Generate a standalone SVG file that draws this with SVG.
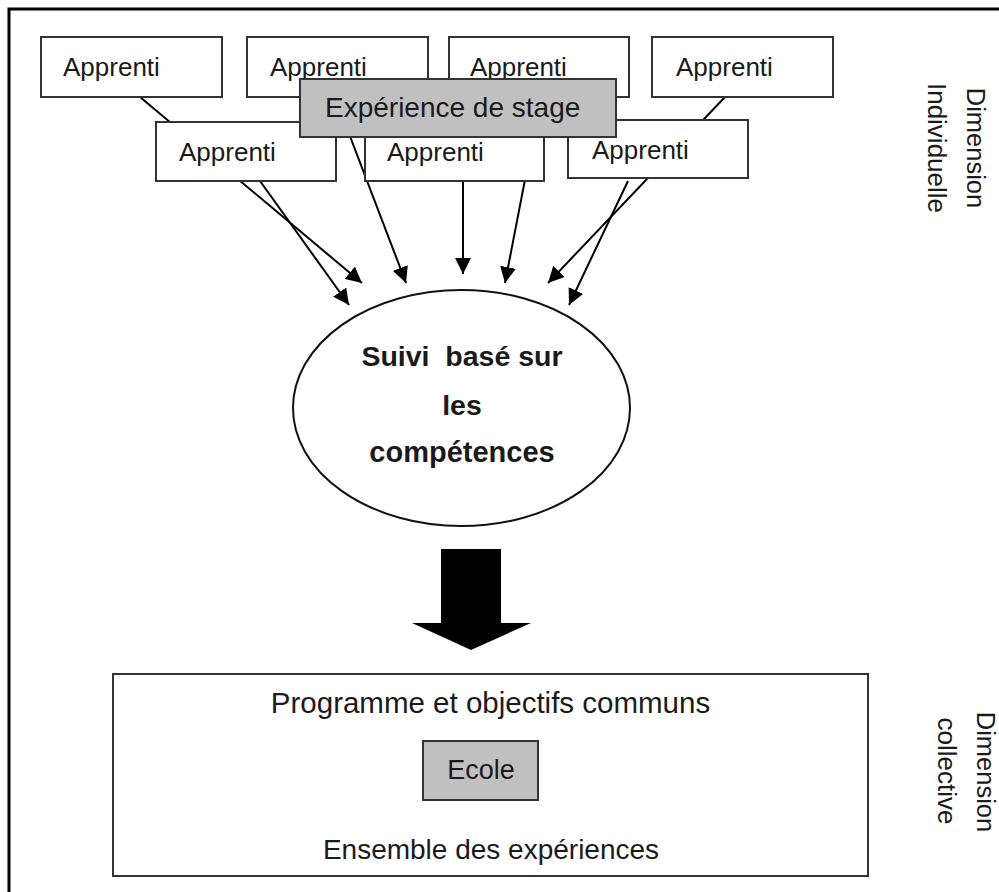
<svg xmlns="http://www.w3.org/2000/svg" width="999" height="892" viewBox="0 0 999 892">
<style>
.box{fill:#fff;stroke:#333;stroke-width:2}
.gray{fill:#c0c0c0;stroke:#333;stroke-width:2}
.t{font-family:"Liberation Sans",Arial,sans-serif;fill:#1a1a1a}
.conn{stroke:#000;stroke-width:2;fill:none;marker-end:url(#ah)}
</style>
<defs>
<marker id="ah" markerUnits="userSpaceOnUse" markerWidth="17" markerHeight="16" refX="16" refY="8" orient="auto">
<path d="M0,0 L16,8 L0,16 z" fill="#000"/>
</marker>
</defs>
<rect width="999" height="892" fill="#fff"/>
<g id="frame">
<path d="M9,892 L9,9 L999,9" fill="none" stroke="#000" stroke-width="3"/>
</g>
<g id="connectors">
<line class="conn" x1="140" y1="97" x2="362" y2="283"/>
<line class="conn" x1="260" y1="181" x2="349" y2="305"/>
<line class="conn" x1="335" y1="97" x2="406" y2="283"/>
<line class="conn" x1="463" y1="181" x2="463" y2="274"/>
<line class="conn" x1="541" y1="97" x2="505" y2="283"/>
<line class="conn" x1="725" y1="97" x2="548" y2="283"/>
<line class="conn" x1="628" y1="181" x2="569" y2="305"/>
</g>
<g id="apprenti1"><rect class="box" x="41" y="37" width="181" height="60"/><text class="t" x="63" y="76" font-size="26">Apprenti</text></g>
<g id="apprenti2"><rect class="box" x="247" y="37" width="181" height="60"/><text class="t" x="270" y="76" font-size="26">Apprenti</text></g>
<g id="apprenti3"><rect class="box" x="449" y="37" width="180" height="60"/><text class="t" x="470" y="76" font-size="26">Apprenti</text></g>
<g id="apprenti4"><rect class="box" x="652" y="37" width="181" height="60"/><text class="t" x="676" y="76" font-size="26">Apprenti</text></g>
<g id="apprenti5"><rect class="box" x="156" y="122" width="180" height="59"/><text class="t" x="179" y="161" font-size="26">Apprenti</text></g>
<g id="apprenti6"><rect class="box" x="365" y="122" width="179" height="59"/><text class="t" x="387" y="161" font-size="26">Apprenti</text></g>
<g id="apprenti7"><rect class="box" x="568" y="120" width="180" height="58"/><text class="t" x="592" y="159" font-size="26">Apprenti</text></g>
<g id="stage"><rect class="gray" x="300" y="79" width="316" height="58"/><text class="t" x="325" y="117" font-size="28">Expérience de stage</text></g>
<g id="suivi">
<ellipse cx="461.5" cy="408" rx="168.5" ry="118" fill="#fff" stroke="#111" stroke-width="2"/>
<text class="t" x="462" y="366" font-size="28.5" font-weight="bold" text-anchor="middle" xml:space="preserve">Suivi  basé sur</text>
<text class="t" x="462" y="415" font-size="28.5" font-weight="bold" text-anchor="middle">les</text>
<text class="t" x="462" y="462" font-size="29" font-weight="bold" text-anchor="middle">compétences</text>
</g>
<g id="bigarrow">
<polygon points="441,549 501,549 501,623 531,623 471,650 412,623 441,623" fill="#000"/>
</g>
<g id="ecole-group">
<rect class="box" x="113" y="674" width="755" height="202"/>
<text class="t" x="490.5" y="713" font-size="29.5" text-anchor="middle">Programme et objectifs communs</text>
<text class="t" x="491" y="859" font-size="28" text-anchor="middle">Ensemble des expériences</text>
</g>
<g id="ecole"><rect class="gray" x="423" y="741" width="115" height="59"/><text class="t" x="481" y="779" font-size="27" text-anchor="middle">Ecole</text></g>
<g id="label-individuelle">
<text class="t" x="967" y="148" font-size="25.5" text-anchor="middle" transform="rotate(90 967 148)">Dimension</text>
<text class="t" x="928" y="148" font-size="26" text-anchor="middle" transform="rotate(90 928 148)">Individuelle</text>
</g>
<g id="label-collective">
<text class="t" x="977" y="772" font-size="25.5" text-anchor="middle" transform="rotate(90 977 772)">Dimension</text>
<text class="t" x="938" y="771" font-size="26" text-anchor="middle" transform="rotate(90 938 771)">collective</text>
</g>
</svg>
